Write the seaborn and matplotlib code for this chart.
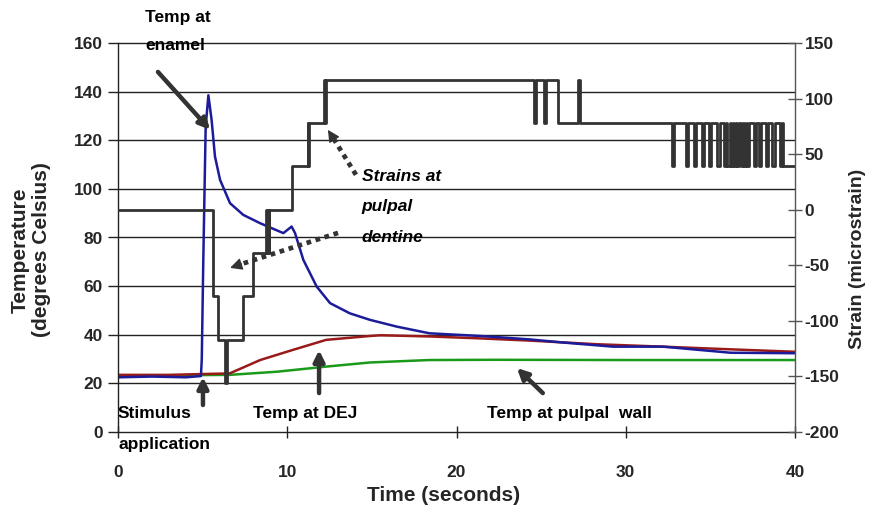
import numpy as np
import pandas as pd
import matplotlib
matplotlib.use("Agg")
import matplotlib.pyplot as plt
import seaborn as sns

# ---------------- data ----------------
enamel_t = [0, 2, 4, 4.9, 4.95, 5.04, 5.18, 5.34, 5.53, 5.73, 6.03, 6.62, 7.4, 8.39,
            9.77, 10.26, 10.46, 10.95, 11.74, 12.53, 13.7, 14.9, 16.5, 18.4, 21.4,
            24.3, 26.3, 29.25, 32.2, 36.2, 40]
enamel_v = [22.5, 22.8, 22.5, 23, 30, 70.8, 125.6, 138.5, 128.4, 113.3, 103.7, 94.1,
            89.3, 85.9, 81.8, 84.5, 81.8, 70.8, 59.8, 53.0, 48.8, 46.1, 43.3, 40.6,
            39.5, 38.1, 36.8, 35.1, 35.1, 32.6, 32.4]

dej_t = [0, 3, 6.6, 8.4, 10.3, 12.3, 14.9, 15.5, 18.4, 21.4, 24.3, 28.3, 32.2, 36.2, 40]
dej_v = [23.5, 23.5, 24.1, 29.6, 33.7, 37.9, 39.5, 39.8, 39.3, 38.5, 37.6, 36.1, 35.1,
         34.0, 33.0]

pulpal_t = [0, 3, 6.6, 9.4, 12.3, 14.9, 18.4, 22.3, 30, 40]
pulpal_v = [23.2, 23.3, 23.5, 24.8, 26.9, 28.6, 29.6, 29.7, 29.6, 29.6]

strain_t = [0, 5.63, 5.93, 6.3, 6.45, 7.4, 8.0, 8.75, 8.8, 8.85, 8.9, 8.95, 10.26,
            11.2, 11.25, 11.3, 12.2, 12.25, 12.3, 24.55, 24.67, 25.15, 25.27, 26.02,
            27.2, 27.3, 32.72, 32.84, 33.55, 33.67, 34.04, 34.16, 34.5, 34.62, 34.93,
            35.05, 35.42, 35.54, 35.81, 35.93, 36.01, 36.13, 36.21, 36.33, 36.41,
            36.53, 36.6, 36.72, 36.8, 36.92, 37.0, 37.12, 37.19, 37.31, 37.59, 37.71,
            37.88, 38.0, 38.28, 38.4, 38.67, 38.79, 39.1, 39.22, 39.31, 40]
strain_v = [0, -78, -117, -156, -117, -78, -39, 0, -39, 0, -39, 0, 39,
            78, 39, 78, 117, 78, 117, 78, 117, 78, 117, 78,
            117, 78, 39, 78, 39, 78, 39, 78, 39, 78, 39,
            78, 39, 78, 39, 78, 39, 78, 39, 78, 39,
            78, 39, 78, 39, 78, 39, 78, 39, 78, 39, 78,
            39, 78, 39, 78, 39, 78, 39, 78, 39, 39]

x_ticks = [0, 10, 20, 30, 40]
temp_ticks = [0, 20, 40, 60, 80, 100, 120, 140, 160]
strain_ticks = [-200, -150, -100, -50, 0, 50, 100, 150]

# ---------------- styling ----------------
sns.set_theme(style="white")
plt.rcParams["font.family"] = ["Liberation Sans", "DejaVu Sans"]
plt.rcParams["font.weight"] = "bold"

fig = plt.figure(figsize=(8.74, 5.14), dpi=100)
ax = fig.add_axes([118 / 874, 1 - 432 / 514, (795 - 118) / 874, (432 - 43) / 514])
ax2 = ax.twinx()

BLUE = "#1c1c9a"
RED = "#9a1a1a"
GREEN = "#1a9a1a"
GRAY = "#333333"

df_en = pd.DataFrame({"t": enamel_t, "v": enamel_v})
df_dej = pd.DataFrame({"t": dej_t, "v": dej_v})
df_pul = pd.DataFrame({"t": pulpal_t, "v": pulpal_v})
df_st = pd.DataFrame({"t": strain_t, "v": strain_v})

sns.lineplot(data=df_pul, x="t", y="v", ax=ax, color=GREEN, lw=1.8, estimator=None)
sns.lineplot(data=df_dej, x="t", y="v", ax=ax, color=RED, lw=1.8, estimator=None)
sns.lineplot(data=df_en, x="t", y="v", ax=ax, color=BLUE, lw=1.8, estimator=None)
sns.lineplot(data=df_st, x="t", y="v", ax=ax2, color=GRAY, lw=2.0, estimator=None,
             sort=False, drawstyle="steps-post")

ax.set_xlim(0, 40)
ax.set_ylim(0, 160)
ax2.set_ylim(-200, 150)
ax.set_xticks(x_ticks)
ax.set_yticks(temp_ticks)
ax2.set_yticks(strain_ticks)
ax.set_xticklabels([str(v) for v in x_ticks], fontsize=12.5, fontweight="bold")
ax.set_yticklabels([str(v) for v in temp_ticks], fontsize=12.5, fontweight="bold")
ax2.set_yticklabels([str(v) for v in strain_ticks], fontsize=12.5, fontweight="bold")

ax.grid(False)
ax2.grid(False)
for v in temp_ticks:
    ax.axhline(v, color="#222222", lw=1.0, zorder=0.5, clip_on=False)

for a in (ax, ax2):
    for s in ("top", "bottom"):
        a.spines[s].set_visible(False)
ax.spines["left"].set_color("#222222")
ax.spines["left"].set_linewidth(1.0)
ax2.spines["right"].set_color("#555555")
ax2.spines["right"].set_linewidth(1.0)
ax.spines["right"].set_visible(False)
ax2.spines["left"].set_visible(False)

ax.tick_params(axis="y", direction="out", length=7, width=1, color="#222222", pad=4,
               left=True)
ax.tick_params(axis="x", direction="inout", length=8, width=1, color="#222222", pad=20,
               bottom=True)
ax2.tick_params(axis="y", direction="inout", length=10, width=1, color="#555555", pad=2,
                right=True)

ax.set_xlabel("Time (seconds)", fontsize=15, fontweight="bold")
ax.set_ylabel("Temperature\n(degrees Celsius)", fontsize=15, fontweight="bold",
              linespacing=1.15)
ax2.set_ylabel("Strain (microstrain)", fontsize=14, fontweight="bold")
for lab in (ax.xaxis.label, ax.yaxis.label, ax2.yaxis.label):
    lab.set_ha("center")
    lab.set_va("center")
    lab.set_rotation_mode("anchor")
ax.xaxis.set_label_coords(0.4815, -0.162)
ax.yaxis.set_label_coords(-0.1285, 0.468)
ax2.yaxis.set_label_coords(1.0916, 0.445)

# ---------------- annotations ----------------
txt = dict(fontsize=12.5, fontweight="bold", color="black", va="center", ha="left")
ax.text(1.6, 170.4, "Temp at", clip_on=False, **txt)
ax.text(1.6, 158.8, "enamel", clip_on=False, **txt)
ax.text(14.4, 104.9, "Strains at", style="italic", **txt)
ax.text(14.4, 92.6, "pulpal", style="italic", **txt)
ax.text(14.4, 80.2, "dentine", style="italic", **txt)
ax.text(0.0, 7.8, "Stimulus", **txt)
ax.text(0.0, -5.3, "application", clip_on=False, **txt)
ax.text(7.98, 7.8, "Temp at DEJ", **txt)
ax.text(21.8, 7.8, "Temp at pulpal  wall", **txt)

solid = dict(arrowstyle="-|>", lw=3.2, color=GRAY, mutation_scale=16,
             shrinkA=0, shrinkB=0)
ax.annotate("", xy=(5.44, 124.3), xytext=(2.36, 148.1), arrowprops=solid,
            annotation_clip=False)
ax.annotate("", xy=(5.02, 22.6), xytext=(5.02, 11.1), arrowprops=solid)
ax.annotate("", xy=(11.88, 33.7), xytext=(11.88, 16.0), arrowprops=solid)
ax.annotate("", xy=(23.57, 26.3), xytext=(25.1, 16.0), arrowprops=solid)

# dotted arrows: dotted shaft + solid head
head = dict(arrowstyle="-|>", lw=1.0, color=GRAY, mutation_scale=18,
            shrinkA=0, shrinkB=0)
for (x0, y0), (x1, y1), (xh, yh) in [((14.06, 105.8), (12.75, 120.5), (12.4, 124.3)),
                                     ((13.0, 81.9), (7.3, 69.1), (6.62, 67.5))]:
    ax.plot([x0, x1], [y0, y1], color=GRAY, lw=3.4, linestyle=(0, (1.0, 1.0)),
            solid_capstyle="butt", dash_capstyle="butt")
    ax.annotate("", xy=(xh, yh), xytext=(x1, y1), arrowprops=head)

fig.savefig("out.png", dpi=100)
